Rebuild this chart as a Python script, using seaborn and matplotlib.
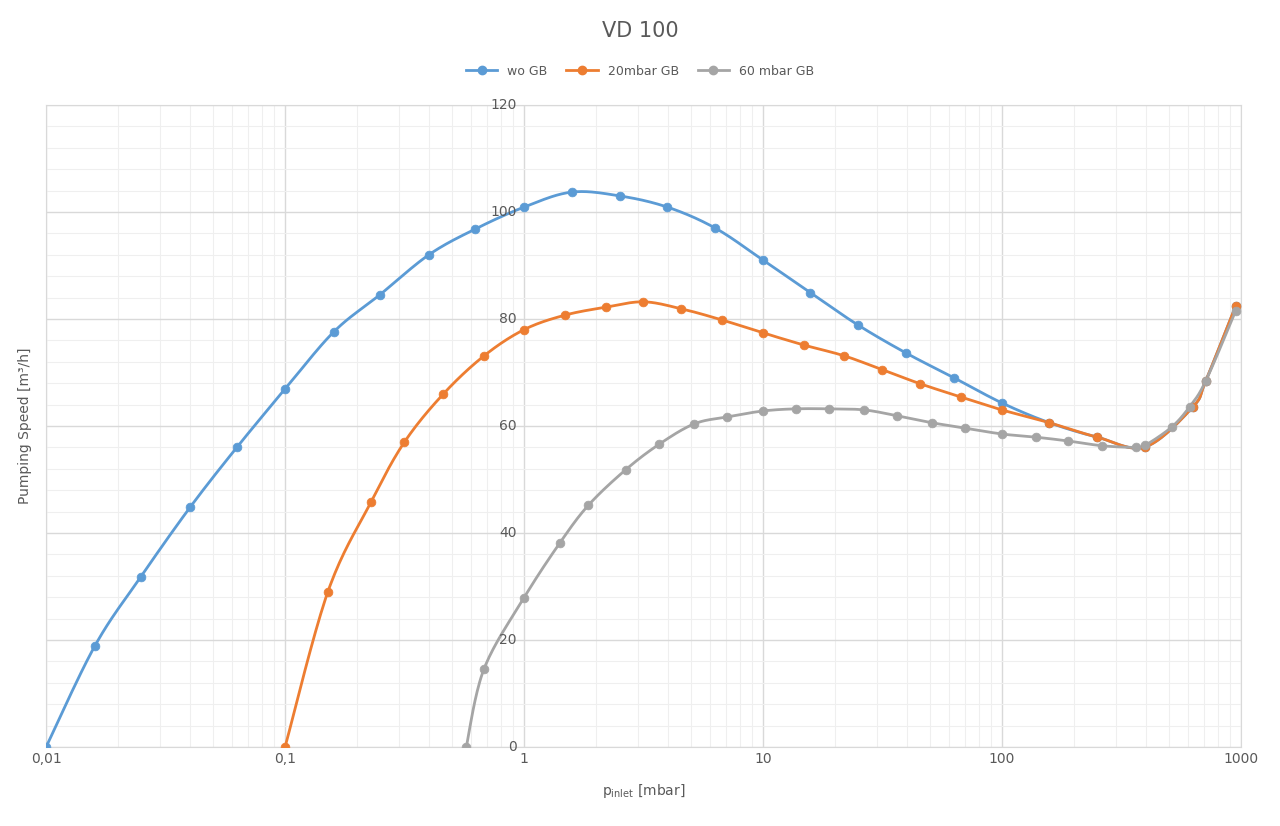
import matplotlib
matplotlib.use('Agg')
import matplotlib.pyplot as plt
from matplotlib.lines import Line2D
import seaborn as sns
import numpy as np
import pandas as pd

plt.rcParams.update({'font.family': 'DejaVu Sans', 'font.size': 10})

BLUE = '#5b9bd5'
ORANGE = '#ed7d31'
GRAY = '#a5a5a5'
TXT = '#595959'

wo_p = [0.01, 0.016, 0.0249, 0.0402, 0.0631, 0.1, 0.16, 0.249, 0.40, 0.625, 1.0, 1.58, 2.51, 3.98,
        6.3, 10, 15.8, 24.9, 39.8, 63, 100, 158, 251, 398, 630, 712, 950]
wo_s = [0, 18.9, 31.8, 44.9, 56.1, 66.9, 77.6, 84.5, 92.0, 96.8, 100.9, 103.7, 103.0, 100.9,
        97.0, 91.0, 84.9, 78.9, 73.6, 69.0, 64.3, 60.6, 57.9, 56.1, 63.6, 68.4, 82.4]

gb20_p = [0.1, 0.151, 0.229, 0.316, 0.46, 0.68, 1.0, 1.48, 2.2, 3.16, 4.55, 6.75, 10, 14.9, 21.9,
          31.6, 45.4, 67.4, 100, 158, 251, 398, 630, 712, 950]
gb20_s = [0, 29.0, 45.8, 57.0, 66.0, 73.1, 78.0, 80.7, 82.2, 83.2, 81.9, 79.8, 77.4, 75.1, 73.1,
          70.5, 67.9, 65.4, 63.0, 60.6, 57.9, 56.1, 63.6, 68.4, 82.4]

gb60_p = [0.573, 0.68, 1.0, 1.41, 1.86, 2.66, 3.68, 5.16, 7.1, 10, 13.7, 18.9, 26.5, 36.5, 51, 70,
          100, 139, 189, 263, 363, 398, 513, 610, 712, 950]
gb60_s = [0, 14.6, 27.9, 38.1, 45.2, 51.8, 56.6, 60.4, 61.7, 62.8, 63.2, 63.2, 63.0, 61.9, 60.6, 59.6,
          58.5, 57.9, 57.2, 56.3, 56.0, 56.4, 59.8, 63.6, 68.4, 81.5]

series = [('wo GB', wo_p, wo_s, BLUE), ('20mbar GB', gb20_p, gb20_s, ORANGE),
          ('60 mbar GB', gb60_p, gb60_s, GRAY)]


def smooth(xs, ys, n=20):
    # Catmull-Rom through the points in log-x space
    lx = np.log10(xs)
    y = np.asarray(ys, float)
    P = np.column_stack([lx, y])
    P = np.vstack([P[0], P, P[-1]])
    out = []
    for i in range(1, len(P) - 2):
        p0, p1, p2, p3 = P[i - 1], P[i], P[i + 1], P[i + 2]
        t = np.linspace(0, 1, n)[:, None]
        c = 0.5 * ((2 * p1) + (-p0 + p2) * t + (2 * p0 - 5 * p1 + 4 * p2 - p3) * t ** 2
                   + (-p0 + 3 * p1 - 3 * p2 + p3) * t ** 3)
        out.append(c)
    c = np.vstack(out)
    return 10 ** c[:, 0], c[:, 1]


fig = plt.figure(figsize=(12.8, 8.26), dpi=100)
ax = fig.add_axes([0.036, 0.0956, 0.9335, 0.7774])

for name, px, sy, col in series:
    sx, syy = smooth(px, sy)
    ax.plot(sx, syy, color=col, lw=2, zorder=3)
    df = pd.DataFrame({'p': px, 's': sy})
    sns.scatterplot(data=df, x='p', y='s', color=col, s=40, edgecolor=col, ax=ax, zorder=4)

ax.set_xscale('log')
ax.set_xlim(0.01, 1000)
ax.set_ylim(0, 120)
ax.set_yticks(np.arange(0, 121, 20))
ax.set_yticks(np.arange(0, 121, 4), minor=True)
ax.grid(which='major', color='#d9d9d9', lw=1)
ax.grid(which='minor', color='#efefef', lw=0.8)
ax.set_axisbelow(True)
ax.set_yticklabels([])
ax.tick_params(which='both', length=0)
ax.set_xticks([0.01, 0.1, 1, 10, 100, 1000])
ax.set_xticklabels(['0,01', '0,1', '1', '10', '100', '1000'], color=TXT, fontsize=10)
for v in range(0, 121, 20):
    ax.text(0.93, v, str(v), ha='right', va='center', color=TXT, fontsize=10)
for sp in ax.spines.values():
    sp.set_color('#d9d9d9')
ax.set_xlabel(r'p$_{\mathrm{inlet}}$ [mbar]', color=TXT, fontsize=10)
ax.set_ylabel('Pumping Speed [m³/h]', color=TXT, fontsize=10)
ax.xaxis.set_label_coords(0.5, -0.055)
ax.yaxis.set_label_coords(-0.012, 0.5)

fig.text(0.5, 0.962, 'VD 100', ha='center', va='center', fontsize=15, color=TXT)
handles = [Line2D([], [], color=c, lw=2, marker='o', ms=6) for _, _, _, c in series]
fig.legend(handles, [s[0] for s in series], loc='center', bbox_to_anchor=(0.5, 0.914), ncol=3,
           frameon=False, fontsize=9, labelcolor=TXT, handlelength=2.5, columnspacing=1.5)

fig.savefig('out.png', dpi=100)
